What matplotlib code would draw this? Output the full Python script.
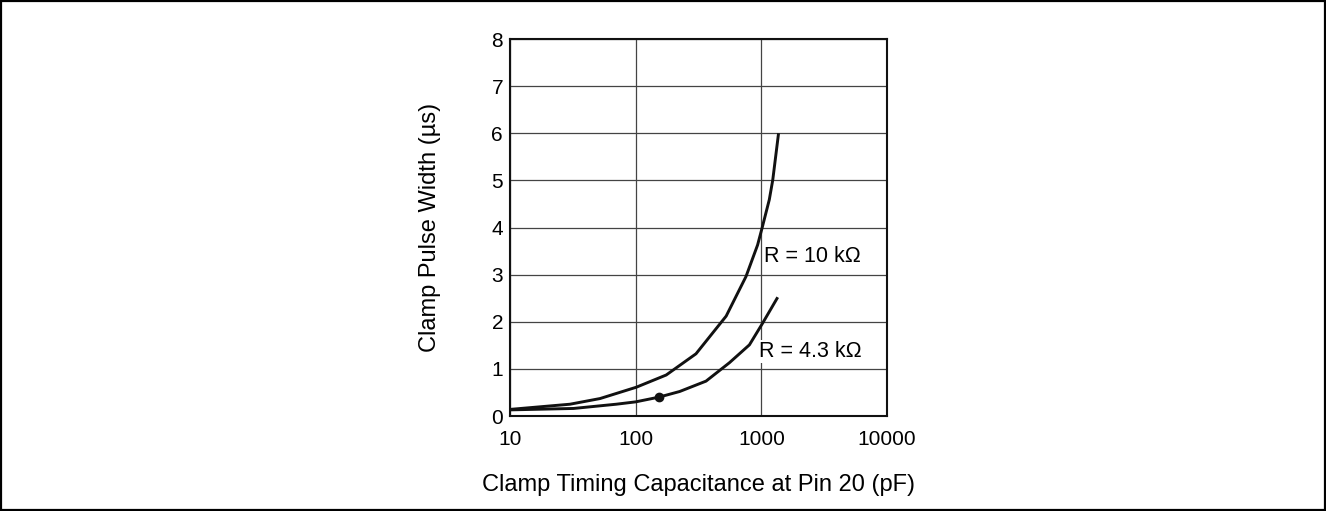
import numpy as np
import matplotlib
matplotlib.use("Agg")
import matplotlib.pyplot as plt
from matplotlib.patches import Rectangle

plt.rcParams['font.family'] = ['Liberation Sans', 'DejaVu Sans']

# Curve data (capacitance in pF, pulse width in us)
cap_10k = [10, 30, 52, 101, 175, 302, 525, 755, 934, 1014, 1157, 1233, 1371]
width_10k = [0.14, 0.25, 0.37, 0.61, 0.87, 1.32, 2.12, 2.96, 3.63, 3.99, 4.59, 5.01, 6.0]

cap_4k3 = [10, 32, 70, 100, 153, 224, 363, 557, 804, 1024, 1350]
width_4k3 = [0.13, 0.16, 0.25, 0.30, 0.40, 0.52, 0.74, 1.13, 1.51, 1.97, 2.52]

dot_cap = 153
dot_width = 0.40

x_ticks = [10, 100, 1000, 10000]
x_tick_labels = ["10", "100", "1000", "10000"]
y_ticks = [0, 1, 2, 3, 4, 5, 6, 7, 8]

fig = plt.figure(figsize=(13.26, 5.11), dpi=100)
ax = fig.add_axes([510 / 1326, 95 / 511, 377 / 1326, 377 / 511])

ax.plot(cap_10k, width_10k, color="#111111", lw=2.1, solid_capstyle="butt")
ax.plot(cap_4k3, width_4k3, color="#111111", lw=2.1, solid_capstyle="butt")
ax.plot([dot_cap], [dot_width], "o", color="#111111", ms=6)

ax.set_xscale("log")
ax.set_xlim(10, 10000)
ax.set_ylim(0, 8)
ax.set_xticks(x_ticks)
ax.set_xticklabels(x_tick_labels)
ax.set_yticks(y_ticks)
ax.minorticks_off()
ax.tick_params(length=0, labelsize=15)
ax.tick_params(axis="y", pad=5)
ax.tick_params(axis="x", pad=10)
ax.grid(True, color="#444444", lw=0.9)
ax.set_axisbelow(True)
for s in ax.spines.values():
    s.set_linewidth(1.5)
    s.set_color("#111111")

ax.text(1057, 3.38, "R = 10 k\u03a9", fontsize=15.5, ha="left", va="center",
        bbox=dict(facecolor="white", edgecolor="none", pad=1))
ax.text(964, 1.37, "R = 4.3 k\u03a9", fontsize=15.5, ha="left", va="center",
        bbox=dict(facecolor="white", edgecolor="none", pad=1))

ax.set_xlabel("Clamp Timing Capacitance at Pin 20 (pF)", fontsize=17)
ax.set_ylabel("Clamp Pulse Width (\u00b5s)", fontsize=17)
ax.xaxis.set_label_coords(0.5, -0.155)
ax.yaxis.set_label_coords(-0.183, 0.5)

# outer frame
fig.add_artist(Rectangle((0.001, 0.002), 0.998, 0.996, transform=fig.transFigure,
                         fill=False, lw=1.6, edgecolor="black"))

fig.savefig("out.png", dpi=100)
